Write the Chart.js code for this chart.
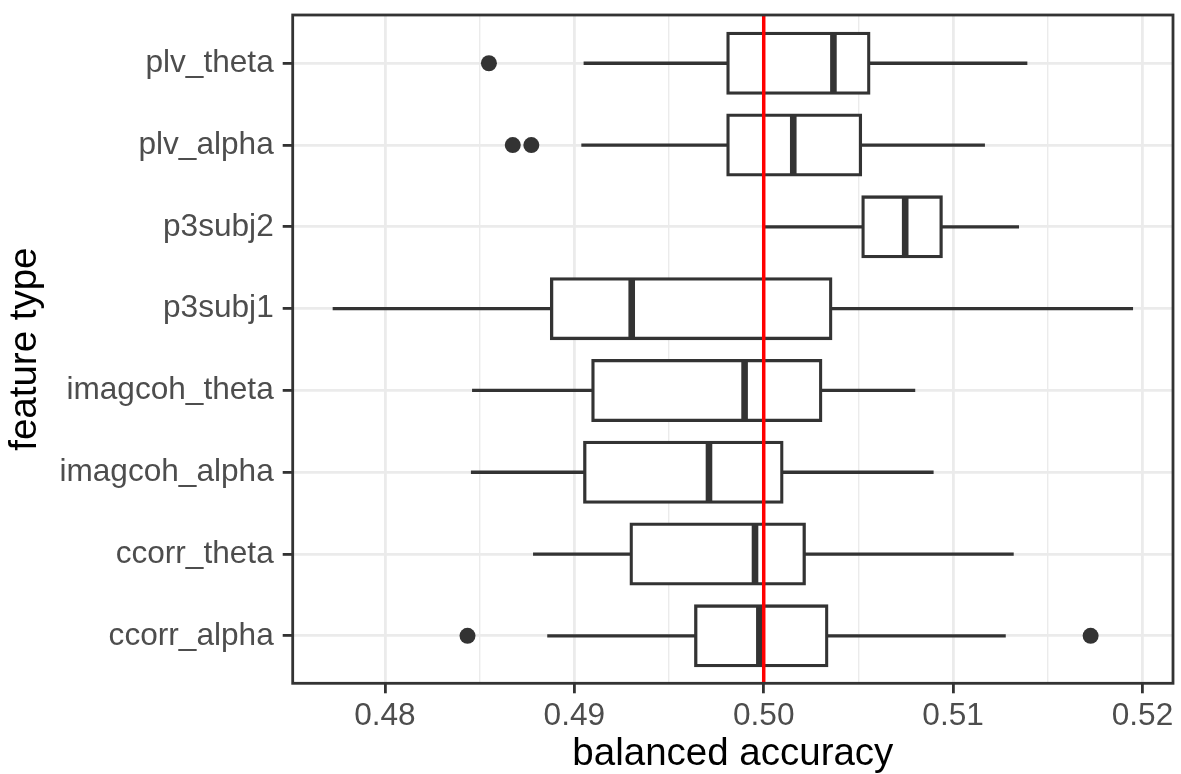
<!DOCTYPE html>
<html>
<head>
<meta charset="utf-8">
<title>balanced accuracy by feature type</title>
<script src="https://cdn.jsdelivr.net/npm/chart.js@4.4.1/dist/chart.umd.min.js"></script>
<style>
  html, body { margin: 0; padding: 0; background: #fff; }
  canvas { display: block; }
</style>
</head>
<body>
<canvas id="boxplot" width="1181" height="774"></canvas>
<script>
// feature types, listed bottom to top (row 1 .. 8)
const categories = ["ccorr_alpha", "ccorr_theta", "imagcoh_alpha", "imagcoh_theta",
                    "p3subj1", "p3subj2", "plv_alpha", "plv_theta"];

// boxplot stats, same order as categories
const whiskerLow  = [0.48857, 0.48782, 0.48454, 0.48460, 0.47724, 0.50004, 0.49037, 0.49049];
const q1          = [0.49641, 0.49300, 0.49055, 0.49098, 0.48880, 0.50524, 0.49811, 0.49811];
const medians     = [0.49977, 0.49954, 0.49711, 0.49899, 0.49303, 0.50747, 0.50156, 0.50368];
const q3          = [0.50333, 0.50214, 0.50096, 0.50301, 0.50354, 0.50937, 0.50511, 0.50555];
const whiskerHigh = [0.51278, 0.51320, 0.50897, 0.50800, 0.51950, 0.51348, 0.51168, 0.51392];

// outlier points
const outlierCategory = ["plv_theta", "plv_alpha", "plv_alpha", "ccorr_alpha", "ccorr_alpha"];
const outlierValue    = [0.48549, 0.48675, 0.48773, 0.48436, 0.51726];

// chance level
const chanceLevel = 0.5;

// x axis ticks
const xMajorTicks = [0.48, 0.49, 0.50, 0.51, 0.52];
const xMinorTicks = [0.485, 0.495, 0.505, 0.515];

const xMin = 0.47513, xMax = 0.52161;
const yMin = 0.42, yMax = 8.59;
const boxWidth = 0.73;
const dark = "#333333";

Chart.defaults.font.family = '"Liberation Sans", Arial, Helvetica, sans-serif';

const rowOf = name => categories.indexOf(name) + 1;
const isMajor = v => xMajorTicks.includes(v);

// ggplot style panel border, drawn over the data
const panelBorder = {
  id: "panelBorder",
  afterDatasetsDraw(chart) {
    const { ctx, chartArea: a } = chart;
    ctx.save();
    ctx.strokeStyle = dark;
    ctx.lineWidth = 2.8;
    ctx.strokeRect(a.left, a.top, a.right - a.left, a.bottom - a.top);
    ctx.restore();
  }
};

new Chart(document.getElementById("boxplot"), {
  type: "bar",
  data: {
    datasets: [
      {
        // whiskers (box covers the middle part)
        type: "bar",
        data: categories.map((c, i) => ({ y: i + 1, x: [whiskerLow[i], whiskerHigh[i]] })),
        backgroundColor: dark,
        borderWidth: 0,
        grouped: false,
        barPercentage: 1,
        categoryPercentage: 1,
        maxBarThickness: 3.3,
        inflateAmount: 0,
        order: 5
      },
      {
        // boxes q1..q3
        type: "bar",
        data: categories.map((c, i) => ({ y: i + 1, x: [q1[i], q3[i]] })),
        backgroundColor: "#FFFFFF",
        borderColor: dark,
        borderWidth: 3.3,
        borderSkipped: false,
        inflateAmount: 1.65,
        grouped: false,
        barPercentage: boxWidth,
        categoryPercentage: 1,
        order: 4
      },
      {
        // medians
        type: "scatter",
        data: categories.map((c, i) => ({ x: medians[i], y: i + 1 })),
        pointStyle: "line",
        pointRotation: 90,
        pointRadius: ctx => {
          const y = ctx.chart.scales.y;
          return Math.abs(y.getPixelForValue(0) - y.getPixelForValue(boxWidth)) / 2;
        },
        pointBorderWidth: 6.6,
        pointBorderColor: dark,
        order: 3
      },
      {
        // outliers
        type: "scatter",
        data: outlierCategory.map((c, i) => ({ x: outlierValue[i], y: rowOf(c) })),
        pointRadius: 8,
        pointBackgroundColor: dark,
        pointBorderWidth: 0,
        order: 2
      },
      {
        // red reference line
        type: "line",
        data: [{ x: chanceLevel, y: yMin }, { x: chanceLevel, y: yMax }],
        borderColor: "#FF0000",
        borderWidth: 3.5,
        pointRadius: 0,
        order: 1
      }
    ]
  },
  options: {
    indexAxis: "y",
    responsive: false,
    devicePixelRatio: 1,
    animation: false,
    events: [],
    layout: { padding: { top: 15, right: 3.7, bottom: 0, left: 0 } },
    plugins: {
      legend: { display: false },
      tooltip: { enabled: false }
    },
    scales: {
      x: {
        type: "linear",
        min: xMin,
        max: xMax,
        offset: false,
        bounds: "data",
        afterBuildTicks: s => {
          s.ticks = xMajorTicks.concat(xMinorTicks).sort((a, b) => a - b).map(v => ({ value: v }));
        },
        afterFit: s => {
          s.height = 90.7;
          s.paddingLeft = 0;
          s.paddingRight = 0;
        },
        grid: {
          offset: false,
          color: "#EBEBEB",
          lineWidth: c => (c.tick && isMajor(c.tick.value) ? 2.8 : 1.4),
          drawTicks: true,
          tickLength: 10,
          tickColor: c => (c.tick && isMajor(c.tick.value) ? dark : "rgba(0,0,0,0)"),
          tickWidth: 2.8
        },
        border: { display: false },
        ticks: {
          autoSkip: false,
          maxRotation: 0,
          padding: 4,
          color: "#4D4D4D",
          font: { size: 31.6 },
          callback: v => (isMajor(v) ? v.toFixed(2) : "")
        },
        title: {
          display: true,
          text: "balanced accuracy",
          color: "#000000",
          font: { size: 38.5, lineHeight: 1 },
          padding: { top: 0, bottom: 0 }
        }
      },
      y: {
        type: "linear",
        min: yMin,
        max: yMax,
        offset: false,
        bounds: "data",
        afterBuildTicks: s => {
          s.ticks = categories.map((c, i) => ({ value: i + 1 }));
        },
        afterFit: s => {
          s.width = 292.7;
          s.paddingTop = 0;
          s.paddingBottom = 0;
        },
        grid: {
          offset: false,
          color: "#EBEBEB",
          lineWidth: 2.8,
          drawTicks: true,
          tickLength: 10,
          tickColor: dark,
          tickWidth: 2.8
        },
        border: { display: false },
        ticks: {
          autoSkip: false,
          padding: 9,
          color: "#4D4D4D",
          font: { size: 31.6 },
          callback: v => categories[v - 1]
        },
        title: {
          display: true,
          text: "feature type",
          color: "#000000",
          font: { size: 38.5, lineHeight: 1 },
          padding: { top: 5.75, bottom: 0 }
        }
      }
    }
  },
  plugins: [panelBorder]
});
</script>
</body>
</html>
